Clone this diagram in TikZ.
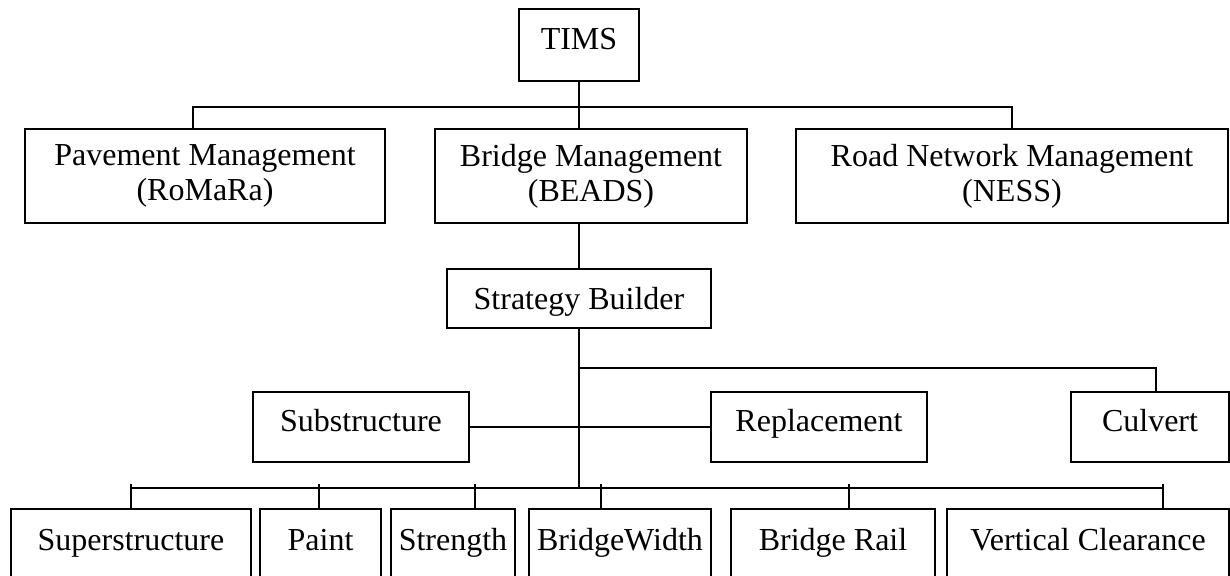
\documentclass[tikz,border=0pt]{standalone}
\usepackage{fontspec}
\setmainfont{Liberation Serif}
\begin{document}
\begin{tikzpicture}[x=0.5pt,y=-0.5pt,
  box/.style={draw,line width=1pt,inner sep=0pt,align=center,font=\fontsize{16}{17.5}\selectfont},
  one/.style={box,text height=10.5pt,text depth=5.5pt},
  low/.style={draw,line width=1pt,inner sep=0pt,anchor=north,text height=20.5pt,text depth=25.5pt,font=\fontsize{16}{17.5}\selectfont},
  conn/.style={line width=1pt}]
\useasboundingbox (0,0) rectangle (1230,576);
\clip (0,0) rectangle (1230,576);
% top level
\node[one,minimum width=60pt,minimum height=36pt] (tims) at (579,45) {TIMS};
\node[box,minimum width=180pt,minimum height=47pt] (pav) at (205,176) {Pavement Management\\(RoMaRa)};
\node[box,minimum width=156pt,minimum height=47pt] (bridge) at (591,176) {Bridge Management\\(BEADS)};
\node[box,minimum width=216pt,minimum height=47pt] (road) at (1012,176) {Road Network Management\\(NESS)};
\node[box,text height=14pt,text depth=3pt,minimum width=132pt,minimum height=29.5pt] (strat) at (579,298.5) {Strategy Builder};
\node[one,minimum width=108pt,minimum height=35pt] (sub) at (361,427) {Substructure};
\node[one,minimum width=108pt,minimum height=35pt] (rep) at (819,427) {Replacement};
\node[one,minimum width=79pt,minimum height=35pt] (culv) at (1150,427) {Culvert};
% bottom row
\node[low,minimum width=120pt] (sup) at (131,508) {Superstructure};
\node[low,minimum width=60.5pt] (paint) at (320.5,508) {Paint};
\node[low,minimum width=62pt] (stren) at (453,508) {Strength};
\node[low,minimum width=91pt] (bw) at (620,508) {BridgeWidth};
\node[low,minimum width=102pt] (brail) at (833,508) {Bridge Rail};
\node[low,minimum width=141pt] (vc) at (1088,508) {Vertical Clearance};
% coordinates
\coordinate (b1l) at (193,107);
\coordinate (b1r) at (1012,107);
\coordinate (cb) at (579,368);
\coordinate (cbr) at (1156,368);
\coordinate (b2) at (579,488);
\coordinate (b2l) at (131,488);
\coordinate (b2r) at (1163,488);
\coordinate (t1) at (131,484);
\coordinate (t2) at (319,484);
\coordinate (t3) at (475,484);
\coordinate (t4) at (601,484);
\coordinate (t5) at (849,484);
\coordinate (t6) at (1163,484);
% connectors
\draw[conn] (tims.south) -- (tims.south |- bridge.north);
\draw[conn] (b1l |- pav.north) -- (b1l) -- (b1r) -- (b1r |- road.north);
\draw[conn] (tims |- bridge.south) -- (strat.north);
\draw[conn] (strat.south) -- (b2);
\draw[conn] (cb) -- (cbr) -- (cbr |- culv.north);
\draw[conn] (sub.east) -- (rep.west);
\draw[conn] (b2l) -- (b2r);
\draw[conn] (t1) -- (t1 |- sup.north);
\draw[conn] (t2) -- (t2 |- paint.north);
\draw[conn] (t3) -- (t3 |- stren.north);
\draw[conn] (t4) -- (t4 |- bw.north);
\draw[conn] (t5) -- (t5 |- brail.north);
\draw[conn] (t6) -- (t6 |- vc.north);
\end{tikzpicture}
\end{document}
